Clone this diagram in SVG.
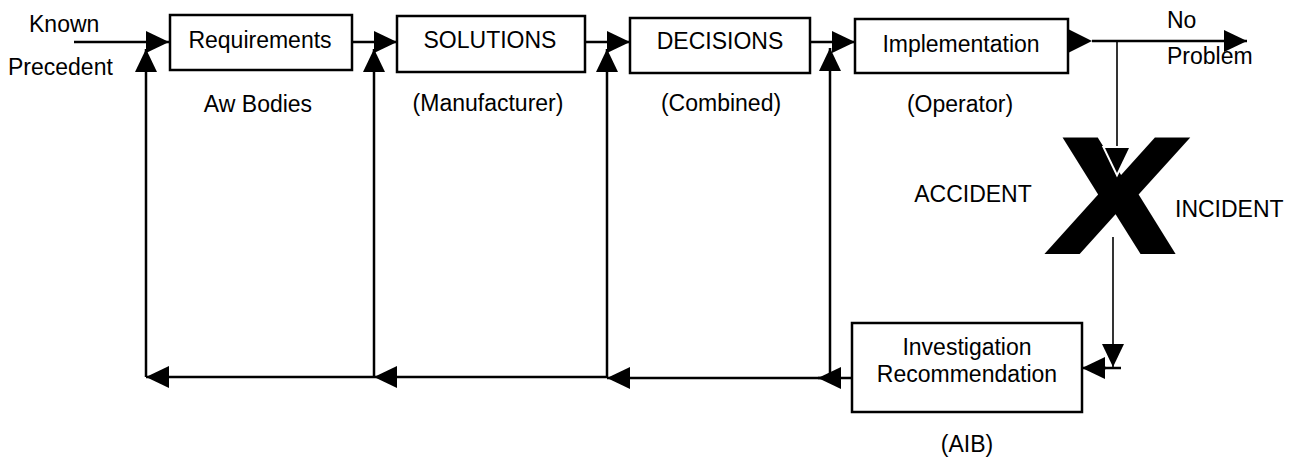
<svg xmlns="http://www.w3.org/2000/svg" width="1295" height="462" viewBox="0 0 1295 462">
<style>
.box{fill:#fff;stroke:#000;stroke-width:2.5}
.t{font-family:"Liberation Sans",Arial,sans-serif;font-size:23px;fill:#000}
.m{text-anchor:middle}
.ln{fill:none;stroke:#000;stroke-width:2.5}
.thin{fill:none;stroke:#000;stroke-width:1.6}
.big{font-family:"DejaVu Sans",sans-serif;font-weight:bold;font-size:160px;fill:#000;text-anchor:middle}
</style>
<defs>
<marker id="ah" viewBox="0 0 23 22" refX="23" refY="11" markerWidth="23" markerHeight="22" markerUnits="userSpaceOnUse" orient="auto">
<path d="M0,0 L23,11 L0,22 Z" fill="#000"/>
</marker>
</defs>
<rect width="1295" height="462" fill="#fff"/>
<g id="known">
<text class="t" x="29" y="32">Known</text>
<text class="t" x="8" y="75">Precedent</text>
</g>
<g id="requirements">
<rect class="box" x="170" y="15" width="182" height="55"/>
<text class="t m" x="260" y="48">Requirements</text>
<text class="t m" x="258" y="112">Aw Bodies</text>
</g>
<g id="solutions">
<rect class="box" x="397" y="16" width="188" height="56"/>
<text class="t m" x="490" y="48">SOLUTIONS</text>
<text class="t m" x="488" y="111">(Manufacturer)</text>
</g>
<g id="decisions">
<rect class="box" x="630" y="18" width="180" height="55"/>
<text class="t m" x="720" y="49">DECISIONS</text>
<text class="t m" x="721" y="111">(Combined)</text>
</g>
<g id="implementation">
<rect class="box" x="855" y="19" width="213" height="54"/>
<text class="t m" x="961" y="52">Implementation</text>
<text class="t m" x="960" y="112">(Operator)</text>
</g>
<g id="noproblem">
<text class="t" x="1167" y="28">No</text>
<text class="t" x="1167" y="64">Problem</text>
</g>
<g id="event">
<text class="big" transform="translate(1110,254) skewX(-8) scale(1.12,1)" x="0" y="0">X</text>
<text class="t m" x="973" y="202">ACCIDENT</text>
<text class="t" x="1175" y="217">INCIDENT</text>
</g>
<g id="investigation">
<rect class="box" x="852" y="323" width="230" height="89"/>
<text class="t m" x="967" y="355">Investigation</text>
<text class="t m" x="967" y="382">Recommendation</text>
<text class="t m" x="967" y="452">(AIB)</text>
</g>
<g id="connectors">
<path class="ln" d="M74,42 H169" marker-end="url(#ah)"/>
<path class="ln" d="M352,42 H397" marker-end="url(#ah)"/>
<path class="ln" d="M585,42 H630" marker-end="url(#ah)"/>
<path class="ln" d="M810,42 H855" marker-end="url(#ah)"/>
<polygon points="1068,29 1092,41 1068,53" fill="#000"/>
<path class="ln" d="M1092,41 H1247" marker-end="url(#ah)"/>
<path class="thin" d="M1117,41 V149"/>
<polygon points="1105,148 1129,148 1117,173" fill="#000" stroke="#fff" stroke-width="4" paint-order="stroke"/>
<path class="thin" d="M1113,237 V367" marker-end="url(#ah)"/>
<path class="ln" d="M1104,368 H1121"/>
<path class="ln" d="M1106,368 H1082" marker-end="url(#ah)"/>
<path class="ln" d="M852,378 H818" marker-end="url(#ah)"/>
<path class="ln" d="M830,378 H607" marker-end="url(#ah)"/>
<path class="ln" d="M607,377 H374" marker-end="url(#ah)"/>
<path class="ln" d="M374,377 H146" marker-end="url(#ah)"/>
<path class="ln" d="M146,377 V49" marker-end="url(#ah)"/>
<path class="ln" d="M374,377 V49" marker-end="url(#ah)"/>
<path class="ln" d="M607,377 V49" marker-end="url(#ah)"/>
<path class="ln" d="M830,378 V48" marker-end="url(#ah)"/>
</g>
</svg>
